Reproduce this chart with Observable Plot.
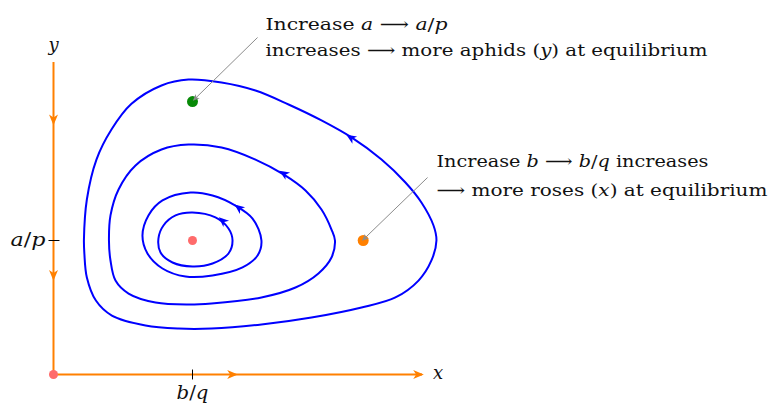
<!DOCTYPE html>
<html>
<head>
<meta charset="utf-8">
<script src="https://cdn.jsdelivr.net/npm/d3@7"></script>
<script src="https://cdn.jsdelivr.net/npm/@observablehq/plot@0.6"></script>
<style>
  html, body { margin: 0; padding: 0; background: #fff; }
  #chart svg { display: block; }
</style>
</head>
<body>
<div id="chart"></div>
<script>
// Closed orbits (x = roses in units of b/q, y = aphids in units of a/p)
const orbitOuter = [[2.755,1.0],[2.734,1.112],[2.647,1.284],[2.532,1.433],[2.360,1.604],[2.144,1.769],[1.928,1.896],[1.691,2.015],[1.453,2.119],[1.209,2.179],[0.971,2.201],[0.777,2.157],[0.561,2.020],[0.417,1.828],[0.309,1.604],[0.240,1.306],[0.219,1.007],[0.222,0.903],[0.240,0.724],[0.305,0.552],[0.420,0.440],[0.662,0.366],[0.899,0.343],[1.137,0.343],[1.496,0.373],[1.856,0.425],[2.216,0.500],[2.460,0.575],[2.626,0.701],[2.719,0.851]];
const orbitSecond = [[2.025,1.0],[2.0,1.082],[1.928,1.231],[1.813,1.373],[1.655,1.493],[1.453,1.604],[1.209,1.694],[0.971,1.716],[0.777,1.679],[0.590,1.560],[0.468,1.381],[0.410,1.187],[0.399,1.0],[0.410,0.851],[0.446,0.701],[0.540,0.604],[0.734,0.537],[0.971,0.522],[1.137,0.530],[1.496,0.575],[1.741,0.649],[1.906,0.754],[2.0,0.873]];
const orbitThird = [[1.496,1.0],[1.432,1.164],[1.309,1.261],[1.144,1.336],[0.986,1.358],[0.784,1.299],[0.683,1.187],[0.640,1.037],[0.676,0.903],[0.784,0.791],[0.950,0.731],[1.144,0.739],[1.360,0.799],[1.468,0.888]];
const orbitInner = [[1.288,1.0],[1.259,1.090],[1.165,1.172],[1.0,1.209],[0.878,1.187],[0.791,1.112],[0.755,1.015],[0.770,0.910],[0.856,0.836],[1.0,0.806],[1.144,0.828],[1.259,0.903]];

// Direction arrows on the orbits: position and heading (degrees, clockwise from +x on screen)
const orbitArrows = [
  {x: 2.137, y: 1.769, angle: -147},
  {x: 1.655, y: 1.500, angle: -148},
  {x: 1.331, y: 1.246, angle: -142},
  {x: 1.216, y: 1.149, angle: -138}
];
// Axis extents and flow arrows along the axes
const xAxisEnd = 2.655, yAxisEnd = 2.328;
const axisArrows = [
  {x: 0, y: 1.90, angle: 90},
  {x: 0, y: 0.74, angle: 90},
  {x: 1.288, y: 0, angle: 0},
  {x: 2.626, y: 0, angle: 0}
];
// Equilibria / marked points
const points = [
  {x: 0, y: 0, color: "#ff6b6b", r: 4.5},
  {x: 1, y: 1, color: "#ff6b6b", r: 4.5},
  {x: 1, y: 2.037, color: "#078a07", r: 5.5},
  {x: 2.228, y: 1, color: "#ff8000", r: 5.5}
];
// Tick / axis labels
const leftLabels = [{x: -0.058, y: 1.0, text: "*a*/*p*"}];
const centerLabels = [
  {x: 1.0, y: -0.139, text: "*b*/*q*"},
  {x: 2.766, y: 0.01, text: "*x*"},
  {x: 0.0, y: 2.458, text: "*y*"}
];
// Annotations (one entry per line)
const notes = [
  {x: 1.525, y: 2.615, text: "Increase *a* ⟶ *a*/*p*"},
  {x: 1.525, y: 2.421, text: "increases ⟶ more aphids (*y*) at equilibrium"},
  {x: 2.755, y: 1.587, text: "Increase *b* ⟶ *b*/*q* increases"},
  {x: 2.755, y: 1.376, text: "⟶ more roses (*x*) at equilibrium"}
];
const leaders = [
  {x1: 1.468, y1: 2.515, x2: 1.020, y2: 2.060},
  {x1: 2.691, y1: 1.470, x2: 2.237, y2: 1.015}
];

// Scales: 0 and 1 (b/q, a/p) mapped to pixel positions
const XR = [53, 192], YR = [374, 240];
const pxX = XR[1] - XR[0], pxY = YR[0] - YR[1];

const orbitRows = [orbitOuter, orbitSecond, orbitThird, orbitInner]
  .flatMap((o, i) => o.map(([x, y]) => ({orbit: i, x, y})));

const leaderHeads = leaders.map(d => ({
  x: d.x2, y: d.y2,
  angle: Math.atan2(-(d.y2 - d.y1) * pxY, (d.x2 - d.x1) * pxX) * 180 / Math.PI
}));

// Stealth arrowhead symbol pointing to +x
const stealth = {
  draw(ctx, size) {
    const s = Math.sqrt(size / Math.PI);
    ctx.moveTo(s, 0);
    ctx.lineTo(-s, -0.85 * s);
    ctx.lineTo(-0.45 * s, 0);
    ctx.lineTo(-s, 0.85 * s);
    ctx.closePath();
  }
};

const serif = "'DejaVu Serif', 'Liberation Serif', serif";
const fs = 17;

const plot = Plot.plot({
  width: 770,
  height: 403,
  margin: 0,
  style: {background: "#fff", fontFamily: serif},
  x: {domain: [0, 1], range: XR, axis: null},
  y: {domain: [0, 1], range: YR, axis: null},
  r: {type: "identity"},
  marks: [
    Plot.line(orbitRows, {x: "x", y: "y", z: "orbit", curve: "catmull-rom-closed", stroke: "#0000ff", strokeWidth: 2}),
    Plot.dot(orbitArrows, {x: "x", y: "y", rotate: "angle", symbol: stealth, r: 5, fill: "#0000ff", stroke: null}),
    Plot.ruleY([0], {x1: 0, x2: xAxisEnd, stroke: "#ff8000", strokeWidth: 2}),
    Plot.ruleX([0], {y1: 0, y2: yAxisEnd, stroke: "#ff8000", strokeWidth: 2}),
    Plot.dot(axisArrows, {x: "x", y: "y", rotate: "angle", symbol: stealth, r: 5.3, fill: "#ff8000", stroke: null}),
    Plot.link([1], {x1: -0.036, x2: 0.043, y1: d => d, y2: d => d, stroke: "#000", strokeWidth: 1}),
    Plot.link([1], {y1: 0.037, y2: -0.037, x1: d => d, x2: d => d, stroke: "#000", strokeWidth: 1}),
    Plot.dot(points, {x: "x", y: "y", r: "r", fill: "color", stroke: null}),
    Plot.link(leaders, {x1: "x1", y1: "y1", x2: "x2", y2: "y2", stroke: "#8c8c8c", strokeWidth: 1}),
    Plot.dot(leaderHeads, {x: "x", y: "y", rotate: "angle", symbol: stealth, r: 3.4, fill: "#8c8c8c", stroke: null}),
    Plot.text(leftLabels, {x: "x", y: "y", text: "text", textAnchor: "end", fontSize: 18, fill: "#111"}),
    Plot.text(centerLabels, {x: "x", y: "y", text: "text", textAnchor: "middle", fontSize: 18, fill: "#111"}),
    Plot.text(notes, {x: "x", y: "y", text: "text", textAnchor: "start", fontSize: fs, fill: "#111"})
  ]
});
plot.style.overflow = "visible";

// Math italics for variables marked with *...*
const ns = "http://www.w3.org/2000/svg";
const noteWidths = {
  "Increase *a* ⟶ *a*/*p*": 182,
  "increases ⟶ more aphids (*y*) at equilibrium": 442,
  "Increase *b* ⟶ *b*/*q* increases": 272,
  "⟶ more roses (*x*) at equilibrium": 331,
  "*a*/*p*": 35,
  "*b*/*q*": 32
};
plot.querySelectorAll("text").forEach(t => {
  const s = t.textContent;
  if (!s.includes("*")) return;
  t.textContent = "";
  s.split("*").forEach((part, i) => {
    if (!part) return;
    const ts = document.createElementNS(ns, "tspan");
    ts.textContent = part;
    if (i % 2) ts.setAttribute("font-style", "italic");
    t.appendChild(ts);
  });
  if (noteWidths[s]) {
    t.setAttribute("textLength", noteWidths[s]);
    t.setAttribute("lengthAdjust", "spacingAndGlyphs");
  }
});
document.getElementById("chart").appendChild(plot);
</script>
</body>
</html>
